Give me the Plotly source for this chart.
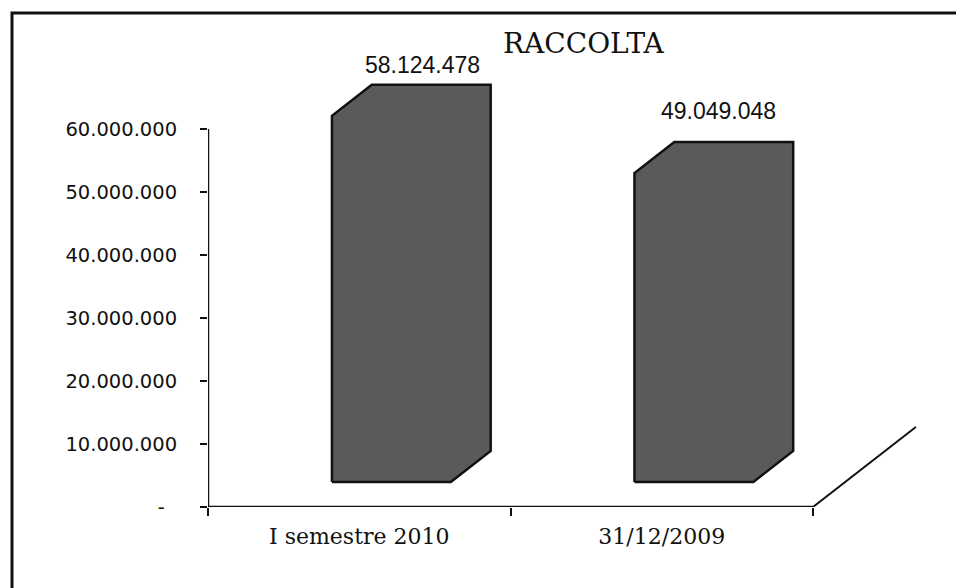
import plotly.graph_objects as go

# ---- data ----
categories = ["I semestre 2010", "31/12/2009"]
values = [58124478, 49049048]
value_labels = ["58.124.478", "49.049.048"]
title_text = "RACCOLTA"
y_tickvals = [0, 10000000, 20000000, 30000000, 40000000, 50000000, 60000000]
y_ticktext = ["-\u00a0\u00a0", "10.000.000", "20.000.000", "30.000.000",
              "40.000.000", "50.000.000", "60.000.000"]

# ---- 3D look (style constants) ----
DEPTH_X = 0.34          # oblique x shift for the full floor depth (x units)
DEPTH_Y = 12.7e6        # oblique y shift for the full floor depth (y units)
BAR_W = 0.393
Z_FRONT = 0.3125
Z_BACK = 0.70
BAR_FILL = "#5a5a5a"
label_shift_px = [5, 16]
label_dx = [-0.03, -0.05]

W, H = 956, 588
ML, MR, MT, MB = 208, 22, 34, 81
X_RANGE = [-0.5, 1.9]
Y_TOP = (H - MT - MB) / 6.3 * 1e6

fig = go.Figure()

for i, v in enumerate(values):
    xl, xr = i - BAR_W / 2, i + BAR_W / 2
    f_dx, f_dy = Z_FRONT * DEPTH_X, Z_FRONT * DEPTH_Y
    b_dx, b_dy = Z_BACK * DEPTH_X, Z_BACK * DEPTH_Y
    xs = [xl + f_dx, xl + f_dx, xl + b_dx, xr + b_dx, xr + b_dx, xr + f_dx, xl + f_dx]
    ys = [f_dy, f_dy + v, b_dy + v, b_dy + v, b_dy, f_dy, f_dy]
    fig.add_trace(go.Scatter(
        x=xs, y=ys, mode="lines", fill="toself", fillcolor=BAR_FILL,
        line=dict(color="#111111", width=2.5), hoverinfo="skip", showlegend=False))
    fig.add_annotation(
        x=i + b_dx + label_dx[i], y=v + b_dy, xref="x", yref="y",
        text=value_labels[i], showarrow=False, yanchor="bottom",
        yshift=label_shift_px[i],
        font=dict(family="Liberation Sans", size=23, color="#111111"))

n = len(categories)
# axis lines and floor edge
fig.add_shape(type="line", xref="x", yref="y", x0=-0.5, x1=-0.5, y0=0, y1=y_tickvals[-1],
              line=dict(color="#111111", width=2.5))
fig.add_shape(type="line", xref="x", yref="y", x0=-0.5, x1=n - 0.5, y0=0, y1=0,
              line=dict(color="#111111", width=2.5))
fig.add_shape(type="line", xref="x", yref="y", x0=n - 0.5, x1=n - 0.5 + DEPTH_X, y0=0, y1=DEPTH_Y,
              line=dict(color="#111111", width=2))

# outer border
pw = W - ML - MR
ph = H - MT - MB
fig.add_shape(type="rect", xref="paper", yref="paper",
              x0=(12 - ML) / pw, x1=(970 - ML) / pw,
              y0=(H - MB - 600) / ph, y1=(H - MB - 13) / ph,
              line=dict(color="#111111", width=3))

fig.add_annotation(x=(584 - ML) / pw, y=(H - MB - 43) / ph, xref="paper", yref="paper",
                   text=title_text, showarrow=False, yanchor="middle",
                   font=dict(family="DejaVu Serif", size=28, color="#111111"))

fig.update_layout(
    width=W, height=H,
    margin=dict(l=ML, r=MR, t=MT, b=MB, autoexpand=False),
    paper_bgcolor="white", plot_bgcolor="white",
    showlegend=False,
    xaxis=dict(range=X_RANGE, showgrid=False, zeroline=False, showline=False,
               tickvals=list(range(n)), ticktext=categories, ticks="",
               ticklabelstandoff=14,
               tickfont=dict(family="DejaVu Serif", size=22, color="#111111"),
               minor=dict(tickvals=[k - 0.5 for k in range(n + 1)], ticks="outside",
                          ticklen=8, tickwidth=2, tickcolor="#111111", showgrid=False)),
    yaxis=dict(range=[0, Y_TOP], showgrid=False, zeroline=False, showline=False,
               tickvals=y_tickvals, ticktext=y_ticktext, ticks="outside",
               ticklen=7, tickwidth=2, tickcolor="#111111",
               ticklabelstandoff=19,
               tickfont=dict(family="DejaVu Sans", size=19.5, color="#111111")),
)

fig.write_html("out.html")
